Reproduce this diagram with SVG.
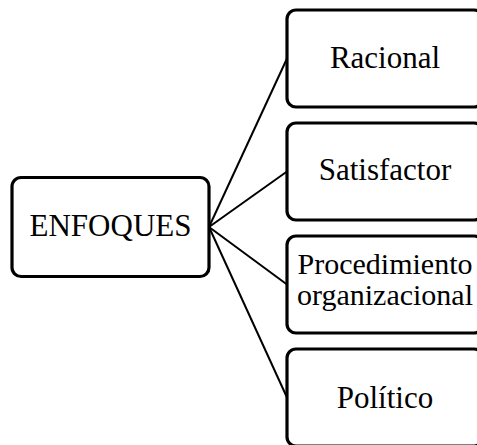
<svg xmlns="http://www.w3.org/2000/svg" width="477" height="445" viewBox="0 0 477 445">
  <style>
    .box { fill: #ffffff; stroke: #000000; stroke-width: 3.2; }
    .lbl { font-family: "Liberation Serif", "Times New Roman", serif; font-size: 31px; fill: #000000; text-anchor: middle; }
    .lbl2 { font-family: "Liberation Serif", "Times New Roman", serif; font-size: 30px; fill: #000000; text-anchor: middle; }
    .link { stroke: #000000; stroke-width: 2; fill: none; }
  </style>
  <rect width="477" height="445" fill="#ffffff"/>

  <!-- connectors from the root to each branch -->
  <g id="connectors">
    <line class="link" x1="209" y1="227" x2="287" y2="58.5"/>
    <line class="link" x1="209" y1="227" x2="287" y2="171.5"/>
    <line class="link" x1="209" y1="227" x2="287" y2="284.5"/>
    <line class="link" x1="209" y1="227" x2="287" y2="397.5"/>
  </g>

  <g id="enfoques">
    <rect class="box" x="12" y="177.5" width="197" height="99" rx="9"/>
    <text class="lbl" x="110.5" y="236">ENFOQUES</text>
  </g>

  <g id="racional">
    <rect class="box" x="287" y="10" width="196" height="97" rx="9"/>
    <text class="lbl" x="385" y="68">Racional</text>
  </g>

  <g id="satisfactor">
    <rect class="box" x="287" y="123" width="196" height="97" rx="9"/>
    <text class="lbl" x="385" y="180">Satisfactor</text>
  </g>

  <g id="procedimiento">
    <rect class="box" x="287" y="236" width="196" height="97" rx="9"/>
    <text class="lbl2" x="385" y="274">Procedimiento</text>
    <text class="lbl2" x="385" y="305">organizacional</text>
  </g>

  <g id="politico">
    <rect class="box" x="287" y="349" width="196" height="97" rx="9"/>
    <text class="lbl" x="385" y="408">Político</text>
  </g>
</svg>
